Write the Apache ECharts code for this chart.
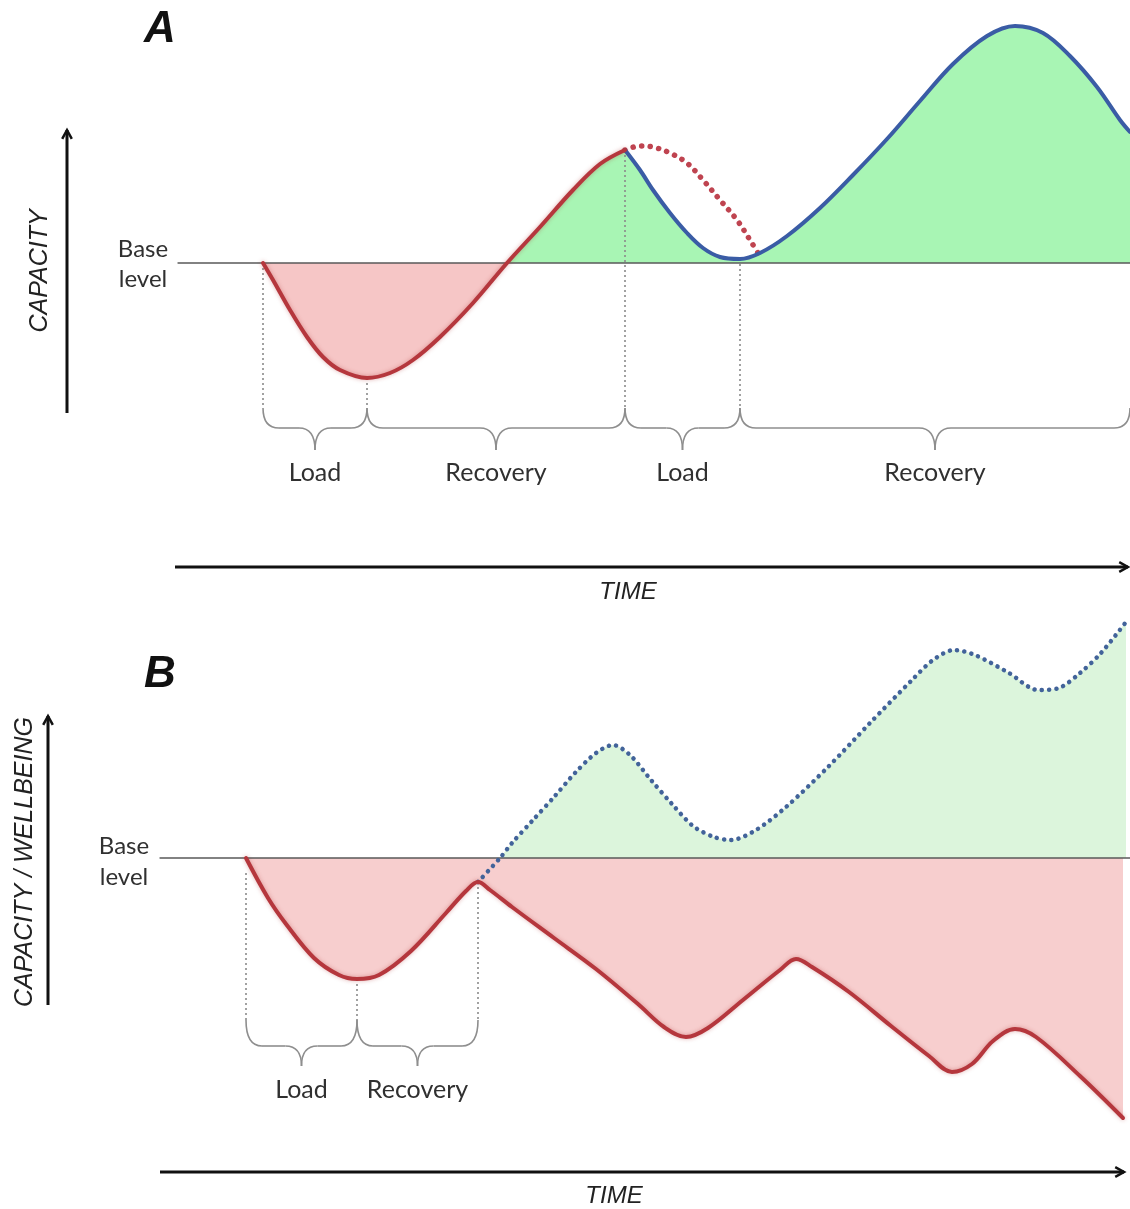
<!DOCTYPE html>
<html><head><meta charset="utf-8">
<script src="https://cdn.jsdelivr.net/npm/echarts@6/dist/echarts.min.js"></script>
<style>html,body{margin:0;padding:0;background:#fff}#c{width:1130px;height:1209px}</style>
</head><body><div id="c"></div>
<script>
// ---------- Panel A data (time, capacity relative to base level) ----------
const redCurveA = [[10.3,0],[11.3,-1.7],[13.0,-4.7],[14.7,-7.4],[16.3,-9.4],[18.0,-10.7],[20.7,-11.5],[23.0,-11.0],[25.3,-9.7],[28.0,-7.4],[31.3,-4.0],[34.7,0],[38.0,3.6],[41.3,7.3],[44.0,9.9],[46.5,11.3]];
const blueCurveA = [[46.5,11.3],[48.0,9.3],[49.3,7.3],[51.0,5.0],[52.7,3.0],[54.3,1.5],[56.0,0.6],[58.0,0.4],[60.0,1.0],[62.7,2.7],[66.0,5.5],[69.3,8.8],[72.7,12.4],[76.0,16.2],[79.3,19.9],[82.7,22.7],[85.5,23.7],[88.3,23.0],[91.0,20.7],[93.7,17.6],[96.0,14.3],[97.0,13.1]];
const plannedCurveA = [[46.5,11.3],[48.0,11.7],[49.3,11.6],[51.0,11.0],[52.7,10.0],[54.3,8.3],[56.0,6.3],[57.7,4.3],[59.0,2.3],[59.8,1.0]];
const phaseEdgesA = [10.3, 20.7, 46.5, 58.0, 97.0];
const phaseLabelsA = ['Load', 'Recovery', 'Load', 'Recovery'];
const boundaryPointsA = [[10.3,0],[20.7,-11.5],[46.5,11.3],[58.0,0.4]];
const baseLineA = [[1.8,0],[97,0]];

// ---------- Panel B data ----------
const redCurveB = [[8.6,0],[10.8,-4.0],[12.6,-6.6],[15.4,-10.0],[17.9,-11.7],[19.7,-12.1],[21.9,-11.7],[25.1,-9.3],[28.6,-5.5],[30.6,-3.3],[31.8,-2.4],[33.0,-3.2],[35.2,-4.9],[39.4,-8.0],[43.6,-11.1],[47.8,-14.6],[50.4,-16.9],[52.6,-17.9],[54.8,-17.0],[58.3,-14.2],[62.0,-11.2],[63.6,-10.1],[65.2,-10.9],[68.9,-13.4],[73.1,-16.8],[76.9,-19.8],[79.2,-21.4],[81.2,-20.6],[83.3,-18.3],[85.5,-17.1],[87.6,-17.9],[92.0,-21.8],[96.3,-26.0]];
const blueCurveB = [[31.8,-2.4],[34.0,0],[35.2,1.5],[37.3,3.8],[39.4,6.1],[41.5,8.5],[43.6,10.5],[45.3,11.3],[47.0,10.3],[49.1,7.8],[51.2,5.4],[53.3,3.2],[55.4,2.1],[57.1,1.8],[59.6,2.8],[62.6,5.1],[66.8,9.1],[71.0,13.5],[75.2,17.8],[77.3,19.8],[79.4,20.8],[81.5,20.3],[84.9,18.5],[87.8,16.8],[89.9,17.0],[92.0,18.5],[94.1,20.5],[96.6,23.6]];
const phaseEdgesB = [8.6, 19.7, 31.8];
const phaseLabelsB = ['Load', 'Recovery'];
const boundaryPointsB = [[8.6,-1.5],[19.7,-12.1],[31.8,-2.4]];
const baseLineB = [[0,0],[97,0]];

// ---------- styling ----------
const RED = '#b5373d', BLUE = '#3a5ca5', BLUE_DOT = '#42639a', RED_DOT = '#bf4450';
const PINK_A = '#f6c6c6', GREEN_A = '#a8f5b4', PINK_B = '#f7cece', GREEN_B = '#dcf5dc';
const TXT = '#303030';
const LBL_FONT = 'Lato, "Open Sans", sans-serif';
const AX_FONT = '"Liberation Sans", Arial, sans-serif';

const chart = echarts.init(document.getElementById('c'), null, {renderer: 'canvas'});

function fill(data, color, xi, sm) {
  return {type: 'line', xAxisIndex: xi, yAxisIndex: xi, data: data, smooth: sm, showSymbol: false, silent: true,
    lineStyle: {width: 0}, areaStyle: {color: color, opacity: 1, origin: 0}, z: 1};
}
function curve(data, color, width, xi, sm, dash) {
  return {type: 'line', xAxisIndex: xi, yAxisIndex: xi, data: data, smooth: sm, showSymbol: false, silent: true,
    lineStyle: {color: color, width: width, type: dash || 'solid', cap: 'round', join: 'round'}, z: 5};
}
function glow(s) {
  s.lineStyle.shadowBlur = 4; s.lineStyle.shadowColor = 'rgba(170,40,40,0.35)'; return s;
}
function vLines(points, topLevel, xi) {
  return {type: 'custom', xAxisIndex: xi, yAxisIndex: xi, data: points, silent: true, z: 3,
    renderItem: function (p, api) {
      const a = api.coord([api.value(0), api.value(1)]);
      const b = api.coord([api.value(0), topLevel]);
      return {type: 'line', shape: {x1: a[0], y1: a[1], x2: b[0], y2: b[1]},
        style: {stroke: '#8a8a8a', lineWidth: 1.6, lineDash: [2, 3], fill: null}};
    }};
}
function braces(edges, labels, lv, xi, fontSize) {
  const items = labels.map((l, i) => [edges[i], edges[i + 1]]);
  return {type: 'custom', xAxisIndex: xi, yAxisIndex: xi, data: items, silent: true, z: 3,
    renderItem: function (p, api) {
      const x0 = api.coord([api.value(0), 0])[0], x1 = api.coord([api.value(1), 0])[0];
      const yT = api.coord([0, lv.top])[1], yM = api.coord([0, lv.mid])[1];
      const yP = api.coord([0, lv.tip])[1], yL = api.coord([0, lv.label])[1];
      const r = Math.min(16, (x1 - x0) / 4), xc = (x0 + x1) / 2;
      const st = {stroke: '#8e8e8e', lineWidth: 1.6, fill: null};
      return {type: 'group', children: [
        {type: 'bezierCurve', shape: {x1: x0, y1: yT, cpx1: x0, cpy1: yM, x2: x0 + r, y2: yM}, style: st},
        {type: 'line', shape: {x1: x0 + r, y1: yM, x2: xc - r, y2: yM}, style: st},
        {type: 'bezierCurve', shape: {x1: xc - r, y1: yM, cpx1: xc, cpy1: yM, x2: xc, y2: yP}, style: st},
        {type: 'bezierCurve', shape: {x1: xc, y1: yP, cpx1: xc, cpy1: yM, x2: xc + r, y2: yM}, style: st},
        {type: 'line', shape: {x1: xc + r, y1: yM, x2: x1 - r, y2: yM}, style: st},
        {type: 'bezierCurve', shape: {x1: x1 - r, y1: yM, cpx1: x1, cpy1: yM, x2: x1, y2: yT}, style: st},
        {type: 'text', style: {text: labels[p.dataIndex], x: xc, y: yL, align: 'center', verticalAlign: 'middle',
          textAlign: 'center', textVerticalAlign: 'middle', fontSize: fontSize, fontFamily: LBL_FONT, fill: TXT}}
      ]};
    }};
}
function arrow(x1, y1, x2, y2, w) {
  const ang = Math.atan2(y2 - y1, x2 - x1), L = 10, s = 0.5;
  const p1 = [x2 - L * Math.cos(ang - s), y2 - L * Math.sin(ang - s)];
  const p2 = [x2 - L * Math.cos(ang + s), y2 - L * Math.sin(ang + s)];
  return [
    {type: 'line', shape: {x1: x1, y1: y1, x2: x2, y2: y2}, style: {stroke: '#111', lineWidth: w}},
    {type: 'polyline', shape: {points: [p1, [x2, y2], p2]}, style: {stroke: '#111', lineWidth: w - 0.5, fill: null}}
  ];
}
function txt(x, y, s, size, opts) {
  return Object.assign({type: 'text', x: x, y: y, style: Object.assign({text: s, fontSize: size, fontFamily: LBL_FONT,
    fill: TXT, align: 'center', verticalAlign: 'middle', textAlign: 'center', textVerticalAlign: 'middle'}, (opts && opts.style) || {})},
    (opts && opts.el) || {});
}

const crossA = 34.7;
const SA = 0.35, SB = 0.35;
const option = {
  animation: false,
  backgroundColor: '#fff',
  grid: [
    {left: 160, width: 970, top: 13, height: 500},
    {left: 160, width: 970, top: 608, height: 550}
  ],
  xAxis: [
    {type: 'value', gridIndex: 0, min: 0, max: 97, show: false},
    {type: 'value', gridIndex: 1, min: 0, max: 97, show: false}
  ],
  yAxis: [
    {type: 'value', gridIndex: 0, min: -25, max: 25, show: false},
    {type: 'value', gridIndex: 1, min: -30, max: 25, show: false}
  ],
  series: [
    // Panel A
    fill(redCurveA.filter(d => d[0] <= crossA), PINK_A, 0, SA),
    fill(redCurveA.filter(d => d[0] >= crossA), GREEN_A, 0, SA),
    fill(blueCurveA, GREEN_A, 0, SA),
    Object.assign(curve(baseLineA, '#5a5a5a', 1.3, 0, false), {z: 2}),
    vLines(boundaryPointsA, -14.5, 0),
    braces(phaseEdgesA, phaseLabelsA, {top: -14.5, mid: -16.5, tip: -18.7, label: -21.0}, 0, 25),
    curve(plannedCurveA, RED_DOT, 5.5, 0, SA, [0.1, 8.5]),
    curve(blueCurveA, BLUE, 4, 0, SA),
    glow(curve(redCurveA, RED, 4, 0, SA)),
    // Panel B
    fill(redCurveB, PINK_B, 1, SB),
    fill(blueCurveB.filter(d => d[1] >= 0), GREEN_B, 1, 0.3),
    Object.assign(curve(baseLineB, '#5a5a5a', 1.3, 1, false), {z: 2}),
    vLines(boundaryPointsB, -16.2, 1),
    braces(phaseEdgesB, phaseLabelsB, {top: -16.2, mid: -18.8, tip: -20.8, label: -23.2}, 1, 25),
    curve(blueCurveB, BLUE_DOT, 4.5, 1, 0.3, [0.1, 7.2]),
    glow(curve(redCurveB, RED, 4, 1, SB))
  ],
  graphic: [].concat(
    arrow(67, 413, 67, 130, 3),
    arrow(175, 567, 1128, 567, 3),
    arrow(48, 1005, 48, 716, 3),
    arrow(160, 1172, 1124, 1172, 3),
    [
      txt(160, 30, 'A', 44, {style: {fontFamily: AX_FONT, fontWeight: 'bold', fontStyle: 'italic', fill: '#111'}}),
      txt(160, 675, 'B', 44, {style: {fontFamily: AX_FONT, fontWeight: 'bold', fontStyle: 'italic', fill: '#111'}}),
      txt(40, 271, 'CAPACITY', 25, {style: {fontFamily: AX_FONT, fontStyle: 'italic', fill: '#222'}, el: {rotation: Math.PI / 2}}),
      txt(25, 862, 'CAPACITY / WELLBEING', 25, {style: {fontFamily: AX_FONT, fontStyle: 'italic', fill: '#222'}, el: {rotation: Math.PI / 2}}),
      txt(628, 592, 'TIME', 24, {style: {fontFamily: AX_FONT, fontStyle: 'italic', fill: '#222'}}),
      txt(614, 1196, 'TIME', 24, {style: {fontFamily: AX_FONT, fontStyle: 'italic', fill: '#222'}}),
      txt(143, 249, 'Base', 24),
      txt(143, 279, 'level', 24),
      txt(124, 846, 'Base', 24),
      txt(124, 877, 'level', 24),
      txt(375, 300, 'Reduced', 19, {style: {fill: '#4a3434'}}),
      txt(375, 325, 'capacity', 19, {style: {fill: '#4a3434'}}),
      txt(1005, 153, 'Increased', 19, {style: {fill: '#2c5434'}}),
      txt(1005, 178, 'capacity', 19, {style: {fill: '#2c5434'}}),
      txt(1103, 902, 'Reduced ability to accept load', 19, {style: {align: 'right', textAlign: 'right'}}),
      txt(1103, 928, 'Increased susceptibility to injury', 19, {style: {align: 'right', textAlign: 'right'}})
    ]
  )
};
chart.setOption(option);
</script>
</body></html>
